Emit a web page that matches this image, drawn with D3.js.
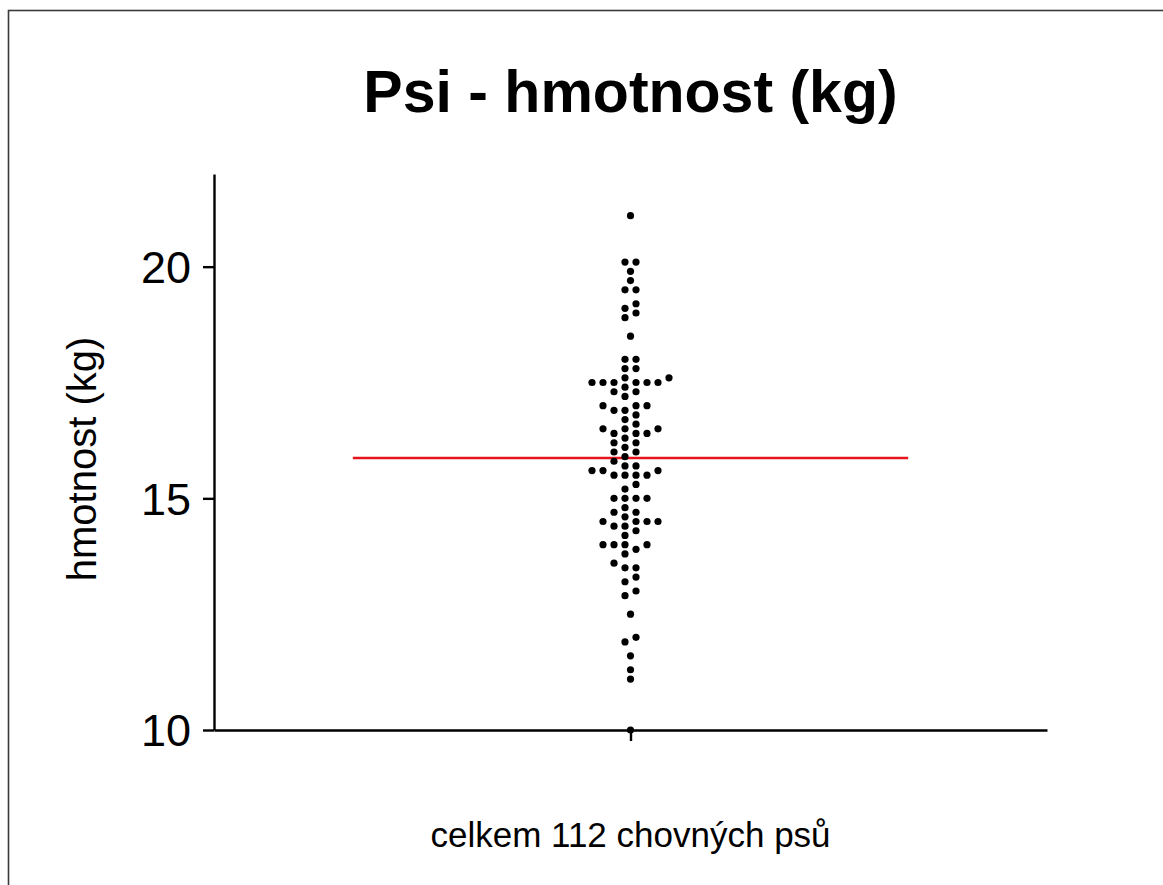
<!DOCTYPE html>
<html>
<head>
<meta charset="utf-8">
<script src="https://cdn.jsdelivr.net/npm/d3@7"></script>
<style>
  html, body { margin: 0; padding: 0; background: #fff; }
  svg { display: block; }
  text { font-family: "Liberation Sans", Arial, Helvetica, sans-serif; fill: #000; }
</style>
</head>
<body>
<svg id="chart" width="1163" height="885"></svg>
<script>
// ---- data ----
const title = "Psi - hmotnost (kg)";
const yLabel = "hmotnost (kg)";
const categories = ["celkem 112 chovných psů"];
const weights = [
  21.1,
  20.1, 20.1, 19.9, 19.7, 19.5, 19.5, 19.2, 19.1, 19.0, 18.9, 18.5,
  18.0, 18.0, 17.8, 17.8, 17.6, 17.6,
  17.5, 17.5, 17.5, 17.5, 17.5, 17.5,
  17.4, 17.3, 17.3, 17.2, 17.0, 17.0, 17.0, 16.9, 16.9,
  16.8, 16.7, 16.6, 16.5, 16.5, 16.5, 16.4, 16.4, 16.4, 16.3,
  16.2, 16.2, 16.1, 16.0, 16.0, 15.9, 15.8, 15.7, 15.7,
  15.6, 15.6, 15.6, 15.5, 15.5, 15.5, 15.5, 15.3, 15.2,
  15.0, 15.0, 15.0, 15.0, 14.8, 14.7, 14.7, 14.6,
  14.5, 14.5, 14.5, 14.5, 14.4, 14.4, 14.3, 14.2,
  14.0, 14.0, 14.0, 14.0, 13.9, 13.8, 13.6, 13.5, 13.5,
  13.3, 13.2, 13.0, 12.9, 12.5, 12.0, 11.9, 11.6, 11.3, 11.1, 10.0
];
const yTicks = [10, 15, 20];
const yDomain = [10, 22];

// ---- layout ----
const svg = d3.select("#chart");
const plot = { left: 214, right: 1047, top: 174, bottom: 730 };

// frame
svg.append("rect")
  .attr("x", 8.5).attr("y", 10.5)
  .attr("width", 1200).attr("height", 1000)
  .attr("fill", "none").attr("stroke", "#3a3a3a").attr("stroke-width", 1.6);

const y = d3.scaleLinear().domain(yDomain).range([plot.bottom, plot.top]);
const x = d3.scalePoint().domain(categories).range([plot.left, plot.right]).padding(0.5);

// axes
const yAxis = svg.append("g")
  .attr("transform", `translate(${plot.left},0)`)
  .call(d3.axisLeft(y).tickValues(yTicks).tickSize(11).tickSizeOuter(0).tickPadding(12));
const xAxis = svg.append("g")
  .attr("transform", `translate(0,${plot.bottom})`)
  .call(d3.axisBottom(x).tickSize(11).tickSizeOuter(0).tickFormat(""));

[yAxis, xAxis].forEach(g => {
  g.select(".domain").attr("stroke", "#000").attr("stroke-width", 2.4);
  g.selectAll(".tick line").attr("stroke", "#000").attr("stroke-width", 2.4);
});
yAxis.selectAll(".tick text")
  .attr("font-size", 45).attr("fill", "#000")
  .attr("dy", "0.35em")
  .style("font-family", "'Liberation Sans', Arial, sans-serif");

// beeswarm layout (Prism-like): isolated points centred, others on half-step columns
const step = 11;           // px between columns
const minGap = 0.15;       // kg; same-column points need at least this separation
const sorted = weights.map((v, i) => ({ v, i })).sort((a, b) => a.v - b.v);
const placed = [];
sorted.forEach(d => {
  const isolated = weights.filter(w => Math.abs(w - d.v) < minGap).length === 1;
  if (isolated) { d.k = 0; placed.push(d); return; }
  const cands = [];
  for (let j = 0; j < 12; j++) { cands.push(-(j + 0.5)); cands.push(j + 0.5); }
  cands.sort((a, b) => Math.abs(a) - Math.abs(b) || a - b);
  for (const k of cands) {
    const hit = placed.some(p => p.k === k && Math.abs(p.v - d.v) < minGap);
    if (!hit) { d.k = k; break; }
  }
  placed.push(d);
});

const cx = x(categories[0]);

// mean line (spans two thirds of the category width)
const mean = d3.mean(weights);
const half = (plot.right - plot.left) / 3;
svg.append("line")
  .attr("x1", cx - half).attr("x2", cx + half)
  .attr("y1", y(mean)).attr("y2", y(mean))
  .attr("stroke", "#e8141b").attr("stroke-width", 2.5);

// dots
svg.append("g").selectAll("circle")
  .data(placed)
  .join("circle")
  .attr("cx", d => cx + d.k * step)
  .attr("cy", d => y(d.v))
  .attr("r", 3.6)
  .attr("fill", "#000");

// title
svg.append("text")
  .attr("x", cx).attr("y", 112)
  .attr("text-anchor", "middle")
  .attr("font-size", 59).attr("font-weight", "bold")
  .text(title);

// y label
svg.append("text")
  .attr("transform", `translate(96,459) rotate(-90)`)
  .attr("text-anchor", "middle")
  .attr("font-size", 40)
  .text(yLabel);

// x label
svg.append("text")
  .attr("x", cx).attr("y", 847)
  .attr("text-anchor", "middle")
  .attr("font-size", 35)
  .text(categories[0]);
</script>
</body>
</html>
